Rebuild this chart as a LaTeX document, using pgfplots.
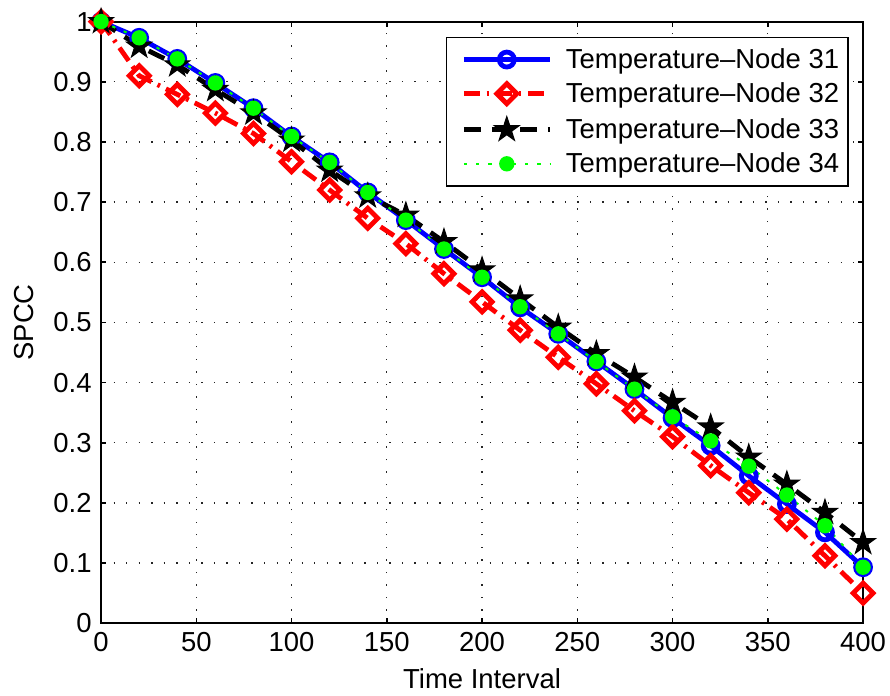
\documentclass[border=0pt]{standalone}
\usepackage{fontspec}
\setmainfont{Liberation Sans}
\usepackage{pgfplots}
\pgfplotsset{compat=1.18}
\usepackage{pgfplotstable}

\definecolor{mblue}{rgb}{0,0,1}
\definecolor{mred}{rgb}{1,0,0}
\definecolor{mgreen}{rgb}{0,1,0}

% filled five-pointed star, like MATLAB's pentagram marker
\pgfdeclareplotmark{pentagram}{%
  \pgfpathmoveto{\pgfpointpolar{90}{\pgfplotmarksize}}%
  \pgfpathlineto{\pgfpointpolar{126}{0.382\pgfplotmarksize}}%
  \pgfpathlineto{\pgfpointpolar{162}{\pgfplotmarksize}}%
  \pgfpathlineto{\pgfpointpolar{198}{0.382\pgfplotmarksize}}%
  \pgfpathlineto{\pgfpointpolar{234}{\pgfplotmarksize}}%
  \pgfpathlineto{\pgfpointpolar{270}{0.382\pgfplotmarksize}}%
  \pgfpathlineto{\pgfpointpolar{306}{\pgfplotmarksize}}%
  \pgfpathlineto{\pgfpointpolar{342}{0.382\pgfplotmarksize}}%
  \pgfpathlineto{\pgfpointpolar{18}{\pgfplotmarksize}}%
  \pgfpathlineto{\pgfpointpolar{54}{0.382\pgfplotmarksize}}%
  \pgfpathclose
  \pgfusepathqfillstroke}

\pgfplotstableread{
t   n31    n32    n33    n34
0   1.000  1.000  1.000  1.000
20  0.973  0.910  0.959  0.973
40  0.938  0.879  0.928  0.938
60  0.898  0.848  0.887  0.898
80  0.856  0.814  0.848  0.856
100 0.809  0.767  0.803  0.809
120 0.766  0.720  0.753  0.766
140 0.716  0.673  0.710  0.716
160 0.670  0.631  0.678  0.670
180 0.622  0.581  0.634  0.622
200 0.575  0.534  0.587  0.575
220 0.525  0.487  0.539  0.526
240 0.481  0.442  0.492  0.481
260 0.435  0.398  0.448  0.435
280 0.389  0.353  0.409  0.389
300 0.341  0.310  0.367  0.343
320 0.295  0.262  0.326  0.303
340 0.245  0.217  0.276  0.261
360 0.198  0.173  0.231  0.213
380 0.151  0.112  0.184  0.162
400 0.093  0.050  0.134  0.093
}\spcc

\begin{document}
\begin{tikzpicture}[font=\fontsize{10.3}{12.4}\selectfont]
\begin{axis}[
    name=ax,
    scale only axis,
    width=285.75pt, height=225.6pt,
    xmin=0, xmax=400, ymin=0, ymax=1,
    xtick={0,50,...,400},
    ytick={0,0.1,0.2,0.3,0.4,0.5,0.6,0.7,0.8,0.9,1},
    /pgf/number format/assume math mode=true,
    tick align=inside,
    major tick length=1.9pt,
    axis line style={line width=0.75pt},
    tick style={line width=0.6pt, black},
    grid=major,
    grid style={line width=0.5pt, black!85, dash pattern=on 0.5pt off 4.2pt},
    xlabel={Time Interval},
    ylabel={SPCC},
    xlabel style={at={(axis description cs:0.5,-0.0926)}, anchor=center},
    ylabel style={at={(axis description cs:-0.101,0.5)}, anchor=center},
    legend cell align=left,
    legend image code/.code={%
        \draw[mark repeat=2,mark phase=2,#1] plot coordinates {(0pt,0pt) (16.1pt,0pt) (32.25pt,0pt)};
        \path (-2.2pt,0pt) (37.35pt,0pt);},
    legend style={at={(axis description cs:0.9816,0.975)}, anchor=north east,
        draw=black, line width=0.6pt, fill=white,
        inner xsep=3.4pt, inner ysep=4.1pt,
        row sep=4.4pt, column sep=0pt,
        nodes={inner sep=0pt, text height=7.5pt, text depth=0.9pt}},
]
\addplot[mblue, line width=1.8pt, mark=o, mark size=2.8pt, mark options={solid}]
    table[x=t, y=n31] {\spcc};
\addlegendentry{Temperature--Node 31}
\addplot[mred, line width=1.8pt, dash pattern=on 6pt off 2.5pt on 1pt off 2.5pt,
    mark=square, mark size=2.65pt, mark options={solid, rotate=45}]
    table[x=t, y=n32] {\spcc};
\addlegendentry{Temperature--Node 32}
\addplot[black, line width=1.8pt, dash pattern=on 6.5pt off 4pt,
    mark=pentagram, mark size=4.9pt, mark options={solid, fill=black, line width=0.4pt}]
    table[x=t, y=n33] {\spcc};
\addlegendentry{Temperature--Node 33}
\addplot[mgreen, line width=0.75pt, dash pattern=on 1.2pt off 3.4pt,
    mark=*, mark size=2.5pt, mark options={solid, fill=mgreen, draw=mgreen}]
    table[x=t, y=n34] {\spcc};
\addlegendentry{Temperature--Node 34}
\end{axis}
\pgfresetboundingbox
\path ([xshift=-37.9pt,yshift=-27.3pt]ax.south west) rectangle ([xshift=10.1pt,yshift=8.1pt]ax.north east);
\end{tikzpicture}
\end{document}
